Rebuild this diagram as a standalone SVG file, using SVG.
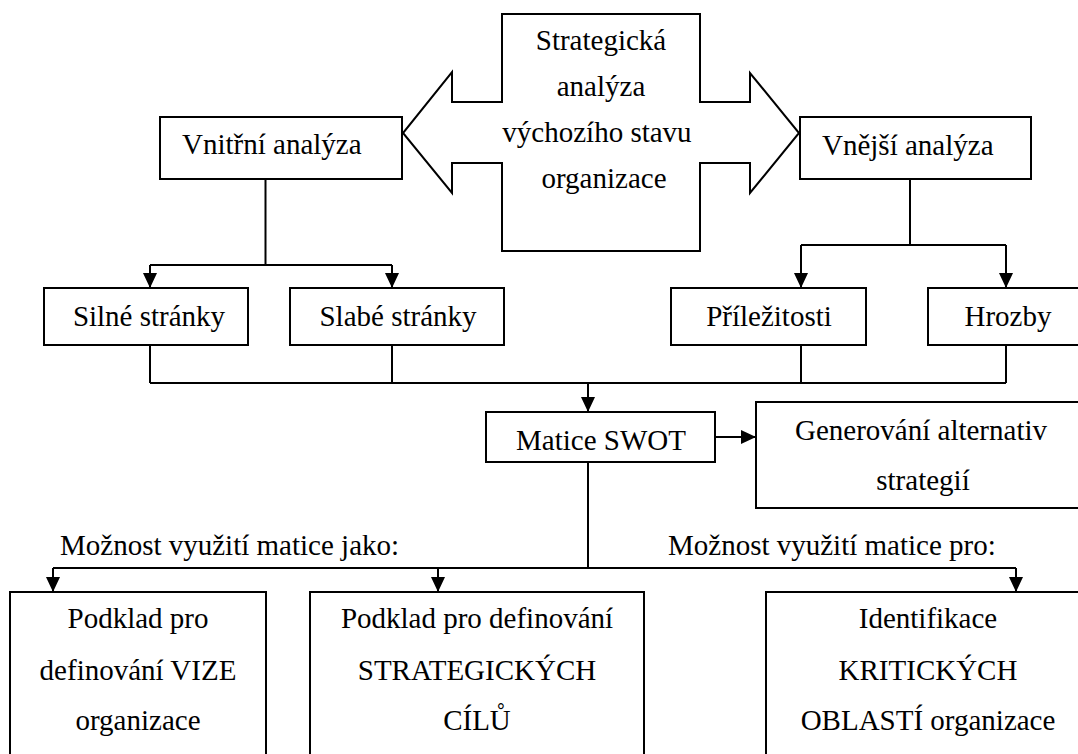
<svg xmlns="http://www.w3.org/2000/svg" width="1078" height="754" viewBox="0 0 1078 754">
  <style>
    .box { fill: #ffffff; stroke: #000000; stroke-width: 2; }
    .wire { fill: none; stroke: #000000; stroke-width: 2; }
    .lbl { font-family: "Liberation Serif", "Times New Roman", serif; font-size: 29px; fill: #000000; }
    .c { text-anchor: middle; }
  </style>
  <defs>
    <marker id="head" markerUnits="userSpaceOnUse" markerWidth="15" markerHeight="14" refX="15" refY="7" orient="auto">
      <path d="M0,0 L15,7 L0,14 z" fill="#000000"/>
    </marker>
  </defs>

  <rect width="1078" height="754" fill="#ffffff"/>

  <!-- central double arrow -->
  <g id="strategicka-analyza">
    <path class="box" d="M502,14 H700 V102 H750 V73 L799,133 L750,193 V163 H700 V251 H502 V163 H452 V193 L403,133 L452,72 V102 H502 Z"/>
    <text class="lbl c" x="601" y="50">Strategická</text>
    <text class="lbl c" x="601" y="96">analýza</text>
    <text class="lbl c" x="597" y="142">výchozího stavu</text>
    <text class="lbl c" x="604" y="188">organizace</text>
  </g>

  <g id="vnitrni-analyza">
    <rect class="box" x="160" y="117" width="242" height="62"/>
    <text class="lbl" x="182" y="154">Vnitřní analýza</text>
  </g>

  <g id="vnejsi-analyza">
    <rect class="box" x="800" y="117" width="231" height="62"/>
    <text class="lbl" x="822" y="155">Vnější analýza</text>
  </g>

  <g id="silne-stranky">
    <rect class="box" x="44" y="288" width="204" height="57"/>
    <text class="lbl c" x="149" y="326">Silné stránky</text>
  </g>

  <g id="slabe-stranky">
    <rect class="box" x="290" y="288" width="214" height="57"/>
    <text class="lbl c" x="398" y="326">Slabé stránky</text>
  </g>

  <g id="prilezitosti">
    <rect class="box" x="671" y="288" width="195" height="57"/>
    <text class="lbl c" x="769" y="326">Příležitosti</text>
  </g>

  <g id="hrozby">
    <rect class="box" x="928" y="288" width="162" height="57"/>
    <text class="lbl c" x="1008" y="326">Hrozby</text>
  </g>

  <g id="matice-swot">
    <rect class="box" x="486" y="412" width="229" height="50"/>
    <text class="lbl c" x="601" y="450">Matice SWOT</text>
  </g>

  <g id="generovani-alternativ">
    <rect class="box" x="756" y="402" width="332" height="106"/>
    <text class="lbl c" x="921" y="440">Generování alternativ</text>
    <text class="lbl c" x="923" y="490">strategií</text>
  </g>

  <g id="popisky">
    <text class="lbl" x="60" y="555">Možnost využití matice jako:</text>
    <text class="lbl" x="668" y="555">Možnost využití matice pro:</text>
  </g>

  <g id="vize">
    <rect class="box" x="10" y="592" width="256" height="180"/>
    <text class="lbl c" x="138" y="628">Podklad pro</text>
    <text class="lbl c" x="138" y="680">definování VIZE</text>
    <text class="lbl c" x="138" y="730">organizace</text>
  </g>

  <g id="strategicke-cile">
    <rect class="box" x="310" y="592" width="334" height="180"/>
    <text class="lbl c" x="477" y="628">Podklad pro definování</text>
    <text class="lbl c" x="477" y="680">STRATEGICKÝCH</text>
    <text class="lbl c" x="477" y="730">CÍLŮ</text>
  </g>

  <g id="kriticke-oblasti">
    <rect class="box" x="766" y="592" width="324" height="180"/>
    <text class="lbl c" x="928" y="628">Identifikace</text>
    <text class="lbl c" x="928" y="680">KRITICKÝCH</text>
    <text class="lbl c" x="928" y="730">OBLASTÍ organizace</text>
  </g>

  <!-- connectors -->
  <g id="connectors">
    <path class="wire" d="M265.5,179 V265 M150,265 H392"/>
    <line class="wire" x1="150" y1="265" x2="150" y2="288" marker-end="url(#head)"/>
    <line class="wire" x1="392" y1="265" x2="392" y2="288" marker-end="url(#head)"/>

    <path class="wire" d="M910,179 V245 M801,245 H1006"/>
    <line class="wire" x1="801" y1="245" x2="801" y2="288" marker-end="url(#head)"/>
    <line class="wire" x1="1006" y1="245" x2="1006" y2="288" marker-end="url(#head)"/>

    <path class="wire" d="M150,345 V383 M392,345 V383 M801,345 V383 M1006,345 V383 M150,383 H1006"/>
    <line class="wire" x1="588" y1="383" x2="588" y2="412" marker-end="url(#head)"/>

    <line class="wire" x1="715" y1="437" x2="756" y2="437" marker-end="url(#head)"/>

    <path class="wire" d="M588,462 V568 M53,568 H1016"/>
    <line class="wire" x1="53" y1="568" x2="53" y2="592" marker-end="url(#head)"/>
    <line class="wire" x1="438" y1="568" x2="438" y2="592" marker-end="url(#head)"/>
    <line class="wire" x1="1016" y1="568" x2="1016" y2="592" marker-end="url(#head)"/>
  </g>
</svg>
